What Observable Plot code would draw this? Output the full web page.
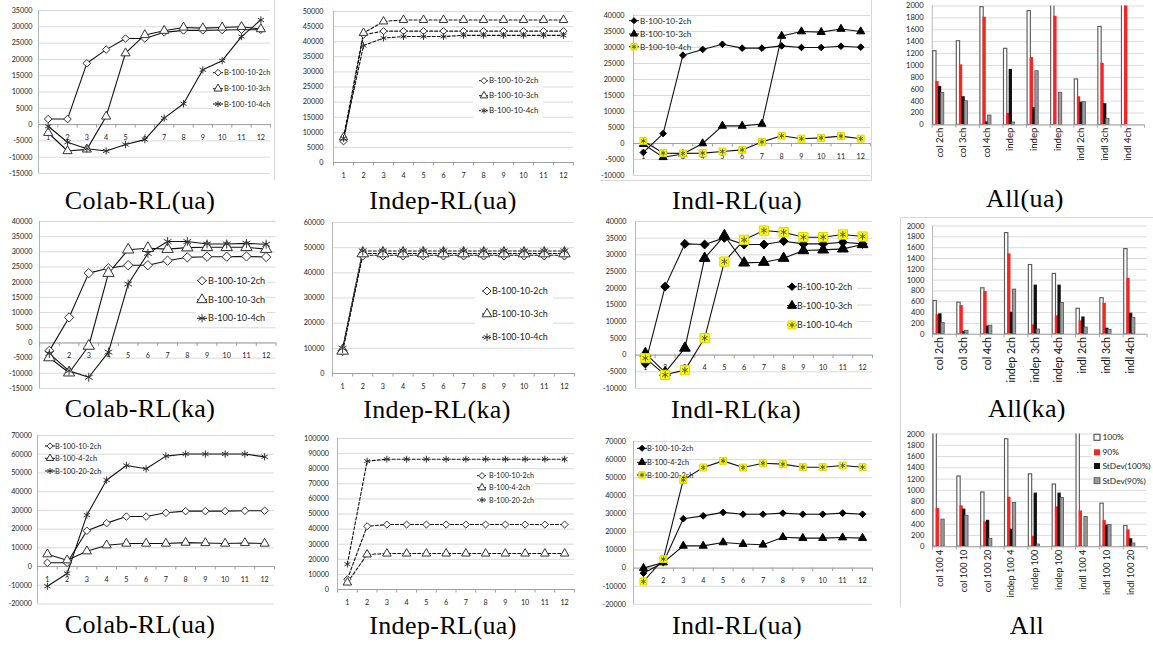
<!DOCTYPE html>
<html>
<head>
<meta charset="utf-8">
<script src="https://cdn.jsdelivr.net/npm/d3@7"></script>
<script src="https://cdn.jsdelivr.net/npm/@observablehq/plot@0.6"></script>
<style>
html, body { margin:0; padding:0; background:#fff; overflow:hidden; }
#page { position:relative; width:1153px; height:645px; overflow:hidden; background:#fff; }
</style>
</head>
<body>
<div id="page"></div>
<script>
// ---------------- data ----------------
const episodes = [1, 2, 3, 4, 5, 6, 7, 8, 9, 10, 11, 12];
const chNames = ["B-100-10-2ch", "B-100-10-3ch", "B-100-10-4ch"];
const sizeNames = ["B-100-10-2ch", "B-100-4-2ch", "B-100-20-2ch"];

// Row 1 : Colab-RL(ua)
const colabUa2ch = [1700, 1700, 18800, 23000, 26400, 26400, 28300, 28900, 28900, 29000, 29100, 29100];
const colabUa3ch = [-2500, -8100, -7600, 2500, 21900, 27500, 28800, 29800, 29600, 29800, 30000, 29300];
const colabUa4ch = [-500, -5400, -7400, -8100, -6100, -4600, 2000, 6400, 16800, 19600, 27000, 32100];
// Row 1 : Indep-RL(ua)
const indepUa2ch = [7000, 42300, 43500, 43500, 43500, 43500, 43500, 43500, 43500, 43500, 43500, 43500];
const indepUa3ch = [8300, 42900, 46700, 47200, 47200, 47200, 47200, 47200, 47200, 47200, 47200, 47200];
const indepUa4ch = [8000, 38700, 41200, 41700, 41700, 41700, 42100, 42100, 42100, 42100, 42100, 42100];
// Row 1 : Indl-RL(ua)
const indlUa2ch = [-2800, 3100, 27600, 29400, 31000, 29800, 29800, 30500, 30000, 30000, 30400, 30100];
const indlUa3ch = [-200, -4300, -3300, 0, 5500, 5500, 6100, 33600, 35000, 34800, 35800, 35000];
const indlUa4ch = [800, -3000, -3100, -3000, -2500, -2000, 500, 2400, 1500, 1750, 2300, 1500];

// Row 2 : Colab-RL(ka)
const colabKa2ch = [-2600, 8400, 23000, 24600, 25600, 25600, 27100, 28200, 28400, 28400, 28500, 28300];
const colabKa3ch = [-4800, -9800, -1000, 23000, 30700, 31200, 30900, 31400, 31500, 31500, 31500, 30900];
const colabKa4ch = [-3500, -9200, -11300, -3000, 19400, 29500, 33400, 33400, 32600, 32600, 32800, 32500];
// Row 2 : Indep-RL(ka)
const indepKa2ch = [9000, 47000, 47000, 47000, 47000, 47000, 47000, 47000, 47000, 47000, 47000, 47000];
const indepKa3ch = [9000, 47700, 47700, 47700, 47700, 47700, 47700, 47700, 47700, 47700, 47700, 47700];
const indepKa4ch = [10000, 48700, 48700, 48700, 48700, 48700, 48700, 48700, 48700, 48700, 48700, 48700];
// Row 2 : Indl-RL(ka)
const indlKa2ch = [-2500, 20500, 33300, 33100, 35100, 33100, 33100, 34100, 33300, 33300, 33800, 33300];
const indlKa3ch = [500, -5200, 2100, 29000, 35800, 27600, 27800, 29000, 31300, 31500, 31800, 33100];
const indlKa4ch = [-900, -5900, -4500, 5100, 28000, 34500, 37300, 36800, 35300, 35300, 36100, 35500];

// Row 3 : Colab-RL(ua), varying size
const colabSz10 = [2000, 2000, 19100, 23200, 26700, 26700, 28700, 29600, 29600, 29600, 29800, 29800];
const colabSz4 = [6600, 3400, 8200, 11400, 12300, 12300, 12300, 12800, 12600, 12300, 12600, 12300];
const colabSz20 = [-10500, -3700, 27500, 46200, 54000, 52200, 59000, 60100, 60100, 60100, 60100, 58600];
// Row 3 : Indep-RL(ua)
const indepSz10 = [6800, 41900, 43000, 43000, 43000, 43000, 43000, 43000, 43000, 43000, 43000, 43000];
const indepSz4 = [4600, 23200, 23800, 23800, 23800, 23800, 23800, 23800, 23800, 23800, 23800, 23800];
const indepSz20 = [16800, 85000, 86300, 86300, 86300, 86300, 86300, 86300, 86300, 86300, 86300, 86300];
// Row 3 : Indl-RL(ua)
const indlSz10 = [-2800, 3100, 27300, 28900, 30800, 29800, 29800, 30400, 29800, 29800, 30400, 29800];
const indlSz4 = [0, 3100, 12300, 12300, 14200, 13300, 12900, 17100, 16600, 16600, 16900, 16600];
const indlSz20 = [-7400, 5000, 48800, 55600, 59300, 55600, 58000, 57500, 55800, 55800, 56700, 55800];

// Bar charts
const barSeries = ["100%", "90%", "StDev(100%)", "StDev(90%)"];
const allUaCats = ["col 2ch", "col 3ch", "col 4ch", "indep", "indep", "indep", "indl 2ch", "indl 3ch", "indl 4ch"];
const allUa100 = [1240, 1408, 1980, 1280, 1913, 2150, 765, 1648, 2400];
const allUa90 = [730, 1010, 1811, 194, 1133, 1827, 474, 1036, 2050];
const allUaSd100 = [648, 474, 51, 934, 291, null, 383, 357, null];
const allUaSd90 = [536, 398, 158, 41, 903, 541, 383, 102, null];

const allKaCats = ["col 2ch", "col 3ch", "col 4ch", "indep 2ch", "indep 3ch", "indep 4ch", "indl 2ch", "indl 3ch", "indl 4ch"];
const allKa100 = [614, 584, 850, 1870, 1280, 1115, 472, 667, 1575];
const allKa90 = [360, 531, 790, 1487, 171, 342, 248, 572, 1032];
const allKaSd100 = [378, 53, 153, 407, 908, 908, 319, 112, 389];
const allKaSd90 = [206, 65, 159, 826, 88, 578, 124, 83, 301];

const allCats = ["col 100 4", "col 100 10", "col 100 20", "indep 100 4", "indep 100", "indep 100", "indl 100 4", "indl 100 10", "indl 100 20"];
const all100 = [2200, 1246, 963, 1909, 1286, 1105, 2200, 765, 368];
const all90 = [680, 725, 442, 878, 181, 708, 635, 465, 300];
const allSd100 = [null, 668, 470, 312, 952, 952, null, 385, 142];
const allSd90 = [482, 550, 142, 776, 40, 867, 527, 385, 57];

// ---------------- styles ----------------
const openStyles = [
  {symbol: "diamond2", fill: "#fff", stroke: "#333"},
  {symbol: "triangle", fill: "#fff", stroke: "#333"},
  {symbol: "asterisk", fill: "none", stroke: "#333"}
];
const filledStyles = [
  {symbol: "diamond2", fill: "#000", stroke: "#000"},
  {symbol: "triangle", fill: "#000", stroke: "#000"},
  {symbol: "square", fill: "#ffff00", stroke: "#d8d800", overlay: "asterisk", overlayStroke: "#555", scale: 1.3}
];
const barStyles = [
  {fill: "#fff", stroke: "#5a5a5a", sw: 1.2},
  {fill: "#ff2222", stroke: "none", sw: 0},
  {fill: "#111", stroke: "none", sw: 0},
  {fill: "#9c9c9c", stroke: "#4a4a4a", sw: 0.8}
];
const FONT = "Lato, 'Open Sans', sans-serif";
const page = document.getElementById("page");

// ---------------- line panels ----------------
function linePanel(p) {
  const mL = 50, mR = 6, mT = 10, mB = 26;
  const W = p.xR - p.xL + mL + mR, H = p.yBot - p.yTop + mT + mB;
  const ticks = d3.range(p.yMin, p.yMax + p.yStep / 2, p.yStep);
  const k = (p.yMax - p.yMin) / (p.yBot - p.yTop);
  const X = (d, i) => episodes[i];
  const marks = [
    Plot.gridY(ticks, {stroke: "#d9d9d9", strokeOpacity: 1}),
    Plot.ruleX([0.5], {stroke: "#b5b5b5"}),
    Plot.ruleY([0], {stroke: "#a0a0a0"}),
    Plot.ruleX(d3.range(0.5, 13, 1), {y1: 0, y2: -3.5 * k, stroke: "#a0a0a0"}),
    Plot.axisY(ticks, {tickSize: 0, tickPadding: p.pad, tickFormat: d => String(d), fontSize: p.tick, fill: "#1a1a1a"}),
    Plot.text(episodes, {x: d => d, y: 0, dy: 13, text: d => String(d), fontSize: p.tick, fill: "#1a1a1a"})
  ];
  p.series.forEach(s => marks.push(Plot.line(s, {x: X, y: d => d, stroke: "#111", strokeWidth: 1.1, strokeDasharray: p.dash || null})));
  p.series.forEach((s, j) => {
    const st = p.styles[j];
    const r = p.r * (st.scale || 1);
    marks.push(Plot.dot(s, {x: X, y: d => d, symbol: st.symbol, r, fill: st.fill, stroke: st.stroke, strokeWidth: 1}));
    if (st.overlay) marks.push(Plot.dot(s, {x: X, y: d => d, symbol: st.overlay, r: r * 0.62, stroke: st.overlayStroke, strokeWidth: 1}));
  });
  const svg = Plot.plot({
    width: W, height: H, marginLeft: mL, marginRight: mR, marginTop: mT, marginBottom: mB,
    x: {type: "linear", domain: [0.5, 12.5], axis: null},
    y: {domain: [p.yMin, p.yMax], axis: null},
    style: {fontFamily: FONT, background: "transparent", overflow: "visible"},
    marks
  });
  svg.style.position = "absolute";
  svg.style.left = (p.xL - mL) + "px";
  svg.style.top = (p.yTop - mT) + "px";
  page.appendChild(svg);
}

// ---------------- bar panels ----------------
function barPanel(p) {
  const mL = 46, mR = 2, mT = 10, mB = 80;
  const xR = p.xL + 9 * p.catW;
  const W = xR - p.xL + mL + mR, H = p.yBot - p.yTop + mT + mB;
  const ticks = d3.range(0, 2001, 200);
  const k = 2000 / (p.yBot - p.yTop);
  const rows = [];
  p.values.forEach((arr, j) => arr.forEach((v, i) => { if (v != null) rows.push({i, j, v}); }));
  const marks = [
    Plot.gridY(ticks, {stroke: "#d9d9d9", strokeOpacity: 1}),
    Plot.ruleX([0], {stroke: "#b5b5b5"}),
    Plot.ruleY([0], {stroke: "#a0a0a0"}),
    Plot.ruleX(d3.range(0, 10), {y1: 0, y2: -3.5 * k, stroke: "#a0a0a0"}),
    Plot.axisY(ticks, {tickSize: 0, tickPadding: p.pad, tickFormat: d => String(d), fontSize: p.tick, fill: "#1a1a1a"})
  ];
  barStyles.forEach((st, j) => {
    marks.push(Plot.rect(rows.filter(d => d.j === j), {
      x1: d => d.i + 0.04 + d.j * 0.11, x2: d => d.i + 0.18 + d.j * 0.11,
      y1: 0, y2: d => d.v, fill: st.fill, stroke: st.stroke, strokeWidth: st.sw, clip: true
    }));
  });
  marks.push(Plot.text(p.cats, {x: (d, i) => i + 0.31, y: 0, dy: 3, rotate: -90, textAnchor: "end", text: d => d, fontSize: p.lab, fill: "#111"}));
  const svg = Plot.plot({
    width: W, height: H, marginLeft: mL, marginRight: mR, marginTop: mT, marginBottom: mB,
    x: {type: "linear", domain: [0, 9], axis: null},
    y: {domain: [0, 2000], axis: null},
    style: {fontFamily: FONT, background: "transparent", overflow: "visible"},
    marks
  });
  const wrap = document.createElement("div");
  const left = p.xL - mL;
  wrap.style.cssText = `position:absolute;left:${left}px;top:${p.yTop - mT}px;width:${p.clipRight - left}px;height:${H}px;overflow:hidden`;
  wrap.appendChild(svg);
  page.appendChild(wrap);
}

// Row 1
linePanel({xL: 38, xR: 270, yTop: 10, yBot: 173, yMin: -15000, yMax: 35000, yStep: 5000, pad: 6, tick: 7.2, r: 3.4,
  series: [colabUa2ch, colabUa3ch, colabUa4ch], styles: openStyles});
linePanel({xL: 333, xR: 573, yTop: 11, yBot: 162, yMin: 0, yMax: 50000, yStep: 5000, pad: 10, tick: 7.2, r: 3.2, dash: "3,2",
  series: [indepUa2ch, indepUa3ch, indepUa4ch], styles: openStyles});
linePanel({xL: 633.4, xR: 870.5, yTop: 15, yBot: 175, yMin: -10000, yMax: 40000, yStep: 5000, pad: 9, tick: 7.2, r: 3,
  series: [indlUa2ch, indlUa3ch, indlUa4ch], styles: filledStyles});
barPanel({xL: 934, catW: 24.8, yTop: 6, yBot: 131, pad: 9, tick: 8, lab: 10, clipRight: 1146,
  cats: allUaCats, values: [allUa100, allUa90, allUaSd100, allUaSd90]});

// Row 2
linePanel({xL: 38.5, xR: 275, yTop: 221, yBot: 388, yMin: -15000, yMax: 40000, yStep: 5000, pad: 7, tick: 7.2, r: 4.2,
  series: [colabKa2ch, colabKa3ch, colabKa4ch], styles: openStyles});
linePanel({xL: 332, xR: 574, yTop: 222, yBot: 373, yMin: 0, yMax: 60000, yStep: 10000, pad: 8, tick: 7.2, r: 4.3, dash: "3,2",
  series: [indepKa2ch, indepKa3ch, indepKa4ch], styles: openStyles});
linePanel({xL: 635, xR: 872, yTop: 221, yBot: 388, yMin: -10000, yMax: 40000, yStep: 5000, pad: 9, tick: 7.2, r: 4,
  series: [indlKa2ch, indlKa3ch, indlKa4ch], styles: filledStyles});
barPanel({xL: 933.5, catW: 24.9, yTop: 226, yBot: 339, pad: 8.5, tick: 8, lab: 11, clipRight: 1148,
  cats: allKaCats, values: [allKa100, allKa90, allKaSd100, allKaSd90]});

// Row 3
linePanel({xL: 37, xR: 274, yTop: 435, yBot: 603.5, yMin: -20000, yMax: 70000, yStep: 10000, pad: 5.5, tick: 7.2, r: 3.4,
  series: [colabSz10, colabSz4, colabSz20], styles: openStyles});
linePanel({xL: 337, xR: 574, yTop: 438.3, yBot: 589.3, yMin: 0, yMax: 100000, yStep: 10000, pad: 8.5, tick: 7.2, r: 3.2, dash: "3,2",
  series: [indepSz10, indepSz4, indepSz20], styles: openStyles});
linePanel({xL: 633, xR: 872, yTop: 440.7, yBot: 603.5, yMin: -20000, yMax: 70000, yStep: 10000, pad: 7.5, tick: 7.2, r: 3,
  series: [indlSz10, indlSz4, indlSz20], styles: filledStyles});
barPanel({xL: 933.5, catW: 24.9, yTop: 434, yBot: 551.7, pad: 8.5, tick: 8, lab: 9.5, clipRight: 1148,
  cats: allCats, values: [all100, all90, allSd100, allSd90]});

// ---------------- overlay: legends, captions, frames ----------------
const overlay = d3.select(page).append("svg")
  .attr("width", 1153).attr("height", 645)
  .style("position", "absolute").style("left", "0px").style("top", "0px");

const symbolTypes = {diamond2: d3.symbolDiamond2, triangle: d3.symbolTriangle, asterisk: d3.symbolAsterisk, square: d3.symbolSquare};
function drawMarker(g, x, y, st, r) {
  const rr = r * (st.scale || 1);
  g.append("path").attr("transform", `translate(${x},${y})`)
    .attr("d", d3.symbol(symbolTypes[st.symbol], Math.PI * rr * rr)())
    .attr("fill", st.fill).attr("stroke", st.stroke).attr("stroke-width", 1);
  if (st.overlay) {
    const ro = rr * 0.62;
    g.append("path").attr("transform", `translate(${x},${y})`)
      .attr("d", d3.symbol(symbolTypes[st.overlay], Math.PI * ro * ro)())
      .attr("fill", "none").attr("stroke", st.overlayStroke).attr("stroke-width", 1);
  }
}
function drawLegend(L) {
  const g = overlay.append("g").attr("font-family", FONT).attr("font-size", L.font).attr("fill", "#1a1a1a");
  if (L.box) g.append("rect").attr("x", L.box[0]).attr("y", L.box[1])
    .attr("width", L.box[2] - L.box[0]).attr("height", L.box[3] - L.box[1]).attr("fill", "#fff");
  L.names.forEach((name, i) => {
    const y = L.ys[i];
    g.append("line").attr("x1", L.mx - 5).attr("x2", L.mx + 5).attr("y1", y).attr("y2", y)
      .attr("stroke", "#111").attr("stroke-width", 1).attr("stroke-dasharray", L.dash || null);
    drawMarker(g, L.mx, y, L.styles[i], L.r);
    g.append("text").attr("x", L.tx).attr("y", y).attr("dy", "0.35em").text(name);
  });
}
drawLegend({names: chNames, styles: openStyles, mx: 218, tx: 224, ys: [72.7, 88.7, 104], font: 7.4, r: 3, box: [213, 67, 272, 110]});
drawLegend({names: chNames, styles: openStyles, mx: 484, tx: 489, ys: [80.7, 95.7, 110.7], font: 7.9, r: 2.8, dash: "2,1.5", box: [473, 74, 543, 118]});
drawLegend({names: chNames, styles: filledStyles, mx: 634, tx: 640, ys: [20.7, 34, 46.7], font: 8.2, r: 2.7});
drawLegend({names: chNames, styles: openStyles, mx: 202, tx: 208, ys: [280.7, 299.7, 318.3], font: 9.1, r: 3.8, box: [196, 273, 267, 326]});
drawLegend({names: chNames, styles: openStyles, mx: 487, tx: 492, ys: [291, 314, 337.3], font: 8.9, r: 3.6, dash: "2,1.5", box: [475, 283, 553, 347]});
drawLegend({names: chNames, styles: filledStyles, mx: 792, tx: 797, ys: [286.7, 305.7, 325], font: 8.8, r: 3.4, box: [785, 279, 857, 332]});
drawLegend({names: sizeNames, styles: openStyles, mx: 50, tx: 55, ys: [446, 458.3, 471], font: 7.4, r: 2.8});
drawLegend({names: sizeNames, styles: openStyles, mx: 482, tx: 489, ys: [475.7, 487.7, 500], font: 7.2, r: 2.8, dash: "2,1.5", box: [472, 469, 535, 506]});
drawLegend({names: sizeNames, styles: filledStyles, mx: 642, tx: 647, ys: [448.3, 462.3, 475], font: 7.4, r: 2.7});

// bar legend (row 3)
{
  const g = overlay.append("g").attr("font-family", FONT).attr("font-size", 8.4).attr("fill", "#1a1a1a");
  g.append("rect").attr("x", 1092).attr("y", 430).attr("width", 61).attr("height", 58).attr("fill", "#fff");
  const ys = [437.3, 452.3, 466, 480.7];
  barSeries.forEach((name, j) => {
    const st = barStyles[j];
    g.append("rect").attr("x", 1094).attr("y", ys[j] - 3).attr("width", 6).attr("height", 6)
      .attr("fill", st.fill).attr("stroke", st.stroke === "none" ? null : st.stroke).attr("stroke-width", st.sw || null);
    g.append("text").attr("x", 1102.5).attr("y", ys[j]).attr("dy", "0.35em").text(name);
  });
}

// captions
const captions = [
  {t: "Colab-RL(ua)", x: 140, y: 209}, {t: "Indep-RL(ua)", x: 443, y: 209}, {t: "Indl-RL(ua)", x: 737, y: 209}, {t: "All(ua)", x: 1025, y: 207},
  {t: "Colab-RL(ka)", x: 140, y: 417}, {t: "Indep-RL(ka)", x: 437, y: 417.5}, {t: "Indl-RL(ka)", x: 736, y: 418}, {t: "All(ka)", x: 1027, y: 416.5},
  {t: "Colab-RL(ua)", x: 140, y: 633}, {t: "Indep-RL(ua)", x: 443, y: 634}, {t: "Indl-RL(ua)", x: 737, y: 634}, {t: "All", x: 1027, y: 634}
];
overlay.append("g").attr("font-family", "'Liberation Serif', serif").attr("font-size", 26).attr("letter-spacing", 0.4)
  .attr("text-anchor", "middle").attr("fill", "#000")
  .selectAll("text").data(captions).join("text")
  .attr("x", d => d.x).attr("y", d => d.y).text(d => d.t);

// chart-area frames
const frames = overlay.append("g").attr("stroke", "#d6d6d6").attr("stroke-width", 1).attr("fill", "none");
frames.append("path").attr("d", "M274.5,0V180");
frames.append("path").attr("d", "M871.5,0V180.5H600");
frames.append("path").attr("d", "M1153,217.5H900.5V607");
</script>
</body>
</html>
